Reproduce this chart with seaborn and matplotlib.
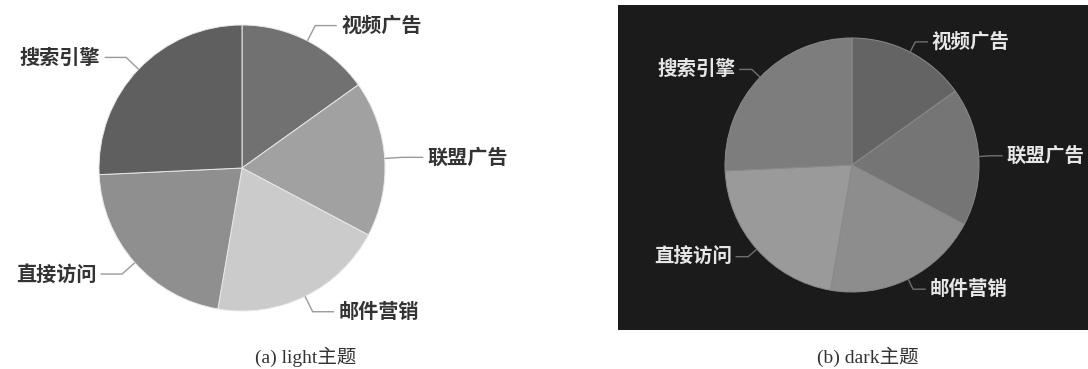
import numpy as np
import matplotlib
matplotlib.use("Agg")
import matplotlib.pyplot as plt
from matplotlib.patches import Rectangle
import seaborn as sns

# Traffic sources and their visit counts
sources = ["视频广告", "联盟广告", "邮件营销", "直接访问", "搜索引擎"]
visits = [235, 274, 310, 335, 400]

# Slice colours for the two themes
light_colors = ["#717171", "#a1a1a1", "#cbcbcb", "#8f8f8f", "#5f5f5f"]
dark_colors = ["#646464", "#757575", "#8d8d8d", "#9a9a9a", "#7d7d7d"]
captions = ["(a) light主题", "(b) dark主题"]

sns.set_theme(style="white")
plt.rcParams["font.family"] = ["Noto Sans CJK SC", "DejaVu Sans"]

W, H = 1088, 369
fig = plt.figure(figsize=(W / 100, H / 100), dpi=100)
fig.patch.set_facecolor("white")

# dark theme backdrop
fig.add_artist(Rectangle((618 / W, 1 - 330 / H), (W - 618) / W, 325 / H,
                         transform=fig.transFigure, facecolor="#1b1b1b",
                         edgecolor="none", zorder=0))


def pie_axes(cx, cy, r):
    ax = fig.add_axes([(cx - r) / W, 1 - (cy + r) / H, 2 * r / W, 2 * r / H])
    ax.axis("off")
    ax.patch.set_alpha(0)
    return ax


def draw_pie(ax, colors, edge, line_color, text_color, l1, l2, fs):
    wedges, _ = ax.pie(visits, colors=colors, startangle=90, counterclock=False,
                       radius=1.0, wedgeprops=dict(edgecolor=edge, linewidth=0.7))
    ax.set_xlim(-1, 1)
    ax.set_ylim(-1, 1)
    ax.set_aspect("equal")
    for w, name in zip(wedges, sources):
        ang = np.deg2rad((w.theta1 + w.theta2) / 2)
        x0, y0 = np.cos(ang), np.sin(ang)
        x1, y1 = (1 + l1) * x0, (1 + l1) * y0
        side = 1 if x0 >= 0 else -1
        x2 = x1 + side * l2
        ax.plot([x0, x1, x2], [y0, y1, y1], color=line_color, lw=1.0,
                clip_on=False, solid_capstyle="butt")
        ax.text(x2 + side * 0.03, y1, name, ha="left" if side > 0 else "right",
                va="center", fontsize=fs, fontweight="bold", color=text_color,
                clip_on=False)


ax_l = pie_axes(242, 168, 143)
draw_pie(ax_l, light_colors, "#e8e8e8", "#9a9a9a", "#333333", 0.12, 0.15, 14.5)

ax_d = pie_axes(852, 165, 127)
draw_pie(ax_d, dark_colors, "#8a8a8a", "#6f6f6f", "#e6e6e6", 0.09, 0.10, 14)

cap_font = ["Liberation Serif", "Noto Sans CJK SC"]
fig.text(306 / W, 1 - 357 / H, captions[0], ha="center", va="center",
         fontsize=14, family=cap_font, color="#333333")
fig.text(868 / W, 1 - 357 / H, captions[1], ha="center", va="center",
         fontsize=14, family=cap_font, color="#333333")

fig.savefig("out.png", dpi=100, facecolor="white")
